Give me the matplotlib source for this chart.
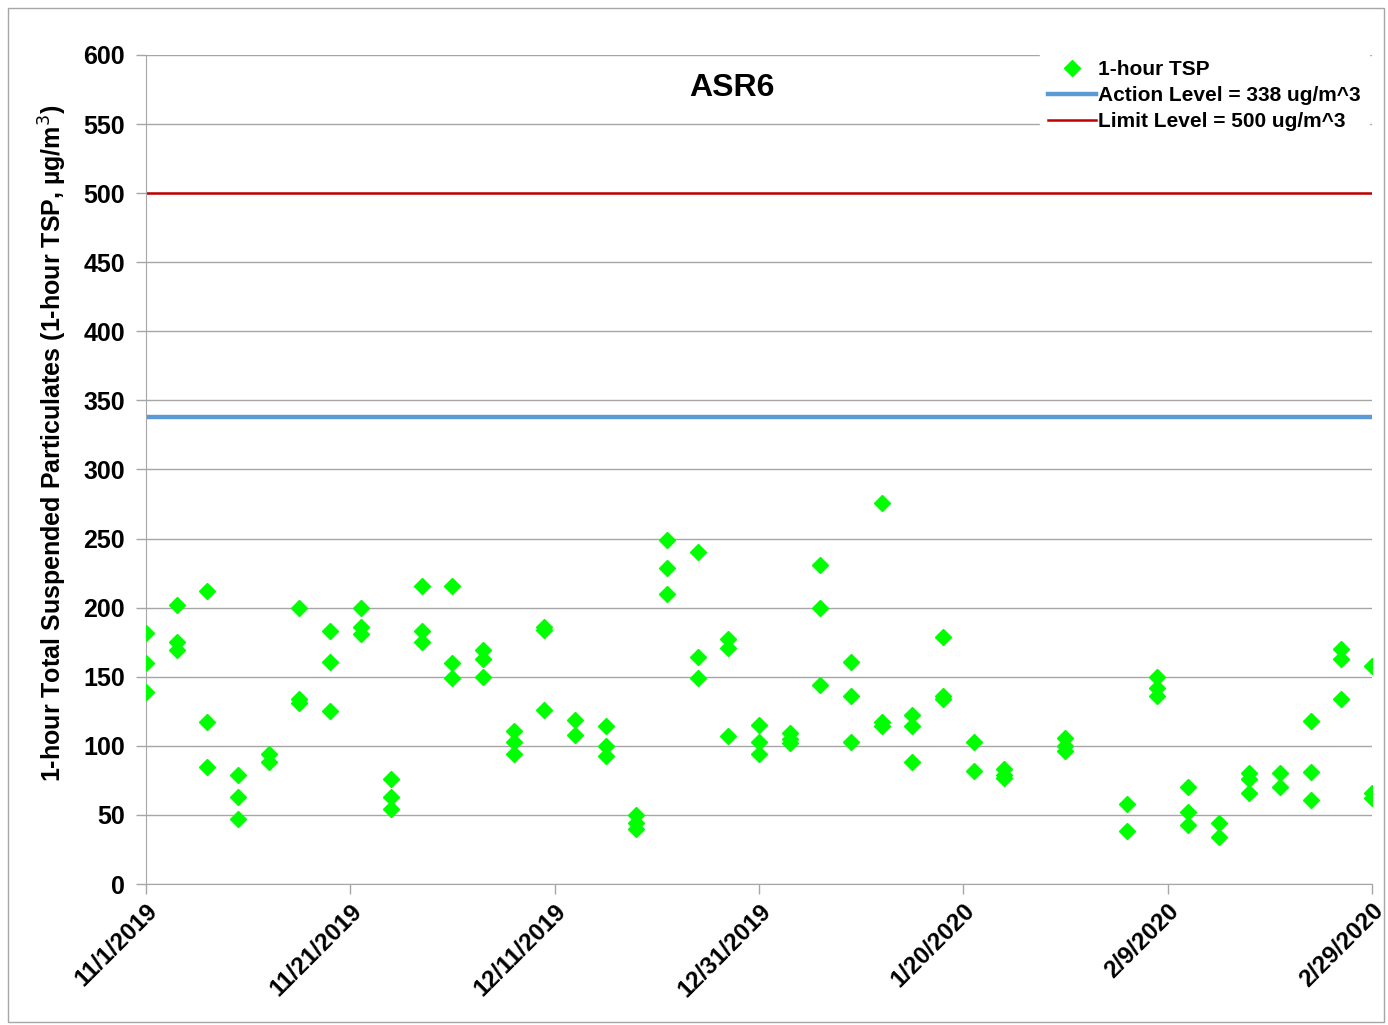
import numpy as np
import matplotlib
matplotlib.use("Agg")
import matplotlib.pyplot as plt
import matplotlib.dates as mdates
from matplotlib.patches import Rectangle
import datetime as dt

plt.rcParams['font.family'] = ['Liberation Sans', 'DejaVu Sans']

# sampling days (offset from 11/1/2019) and the 1-hour TSP readings on each
day_offsets = [0, 3, 6, 9, 12, 15, 18, 21, 24, 27, 30, 33, 36, 39, 42, 45, 48, 51, 54,
               57, 60, 63, 66, 69, 72, 75, 78, 81, 84, 90, 96, 99, 102, 105, 108, 111,
               114, 117, 120]
tsp_values = [
    [182, 160, 139], [202, 175, 169], [212, 117, 85], [79, 63, 47], [94, 88],
    [200, 134, 131], [183, 161, 125], [200, 186, 181], [76, 63, 54], [216, 183, 175],
    [216, 160, 149], [169, 163, 150], [111, 103, 94], [186, 184, 126], [119, 108],
    [114, 100, 93], [50, 44, 40], [249, 229, 210], [240, 164, 149], [177, 171, 107],
    [115, 103, 94], [109, 105, 102], [231, 200, 144], [161, 136, 103], [276, 117, 114],
    [122, 114, 88], [179, 136, 134], [103, 82], [83, 79, 77], [106, 100, 96],
    [58, 38], [150, 142, 136], [70, 52, 43], [44, 34], [80, 76, 66], [80, 70],
    [118, 81, 61], [170, 163, 134], [158, 66, 62],
]
action_level = 338
limit_level = 500

start = dt.date(2019, 11, 1)
end = dt.date(2020, 2, 29)
tick_labels = ['11/1/2019', '11/21/2019', '12/11/2019', '12/31/2019',
               '1/20/2020', '2/9/2020', '2/29/2020']

xs, ys = [], []
for d, vals in zip(day_offsets, tsp_values):
    for v in vals:
        xs.append(start + dt.timedelta(days=d))
        ys.append(v)

fig = plt.figure(figsize=(13.88, 10.25), dpi=100)
ax = fig.add_axes([146 / 1388, 141 / 1025, 1226 / 1388, 829 / 1025])

# outer frame around the chart area
fig.patches.append(Rectangle((8 / 1388, 3 / 1025), 1376 / 1388, 1014 / 1025,
                             transform=fig.transFigure, fill=False,
                             edgecolor='#a6a6a6', linewidth=1))

ax.plot(xs, ys, linestyle='none', marker='D', markersize=8, color='#00ff00',
        label='1-hour TSP', zorder=3)
ax.axhline(action_level, color='#5b9bd5', linewidth=3.2,
           label='Action Level = 338 ug/m^3', zorder=2)
ax.axhline(limit_level, color='#c00000', linewidth=1.8,
           label='Limit Level = 500 ug/m^3', zorder=2)

ax.set_xlim(mdates.date2num(start), mdates.date2num(end))
ax.set_ylim(0, 600)
ax.set_yticks(np.arange(0, 601, 50))
ax.set_yticklabels([str(v) for v in range(0, 601, 50)], fontsize=18, fontweight='bold')

tick_dates = [start + dt.timedelta(days=20 * i) for i in range(len(tick_labels))]
ax.set_xticks(mdates.date2num(tick_dates))
ax.set_xticklabels(tick_labels, rotation=45, ha='right', rotation_mode='anchor',
                   fontsize=17.5, fontweight='bold')

ax.grid(axis='y', color='#a6a6a6', linewidth=1)
ax.set_axisbelow(True)
for s in ['top', 'right']:
    ax.spines[s].set_visible(False)
for s in ['left', 'bottom']:
    ax.spines[s].set_color('#a6a6a6')
ax.tick_params(axis='both', direction='out', length=7, color='#a6a6a6', width=1)
ax.tick_params(axis='y', pad=8)
ax.tick_params(axis='x', pad=4)

ax.set_ylabel('1-hour Total Suspended Particulates (1-hour TSP, µg/m$^3$)',
              fontsize=18, fontweight='bold')
ax.yaxis.set_label_coords(-0.063, 0.532)

ax.text(0.478, 0.96, 'ASR6', transform=ax.transAxes, fontsize=23, fontweight='bold',
        ha='center', va='center')

leg = ax.legend(loc='upper right', bbox_to_anchor=(1.0, 1.008), frameon=True,
                fancybox=False, framealpha=1, edgecolor='white',
                prop={'size': 15, 'weight': 'bold'}, handlelength=2.3,
                handletextpad=0.1, labelspacing=0.35, borderaxespad=0.15)

fig.savefig('out.png', dpi=100)
